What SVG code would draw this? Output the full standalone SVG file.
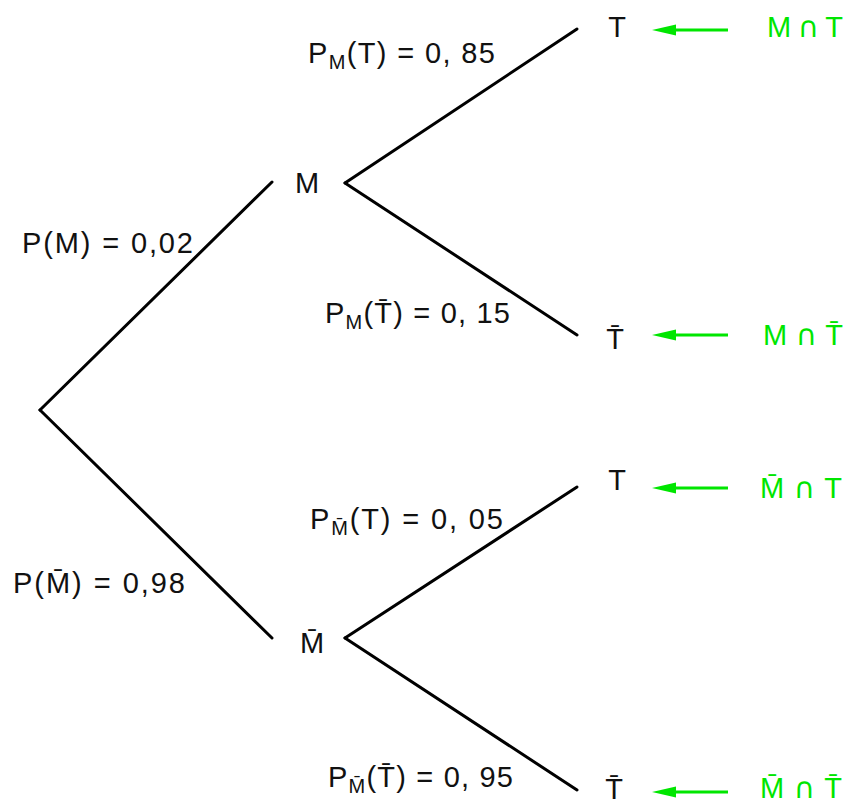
<svg xmlns="http://www.w3.org/2000/svg" width="851" height="805" viewBox="0 0 851 805">
<style>
  text { font-family: "Liberation Sans", "DejaVu Sans", sans-serif; fill: #111; }
  .lbl { font-size: 29px; }
  .node { font-size: 29px; text-anchor: middle; }
  .sub { font-size: 20px; }
  .g { font-size: 29px; fill: #00e600; }
  .cap { font-family: "DejaVu Sans", sans-serif; font-size: 29px; }
  .edge { stroke: #000; stroke-width: 3; fill: none; stroke-linecap: round; }
  .garrow { stroke: #00e600; stroke-width: 3; fill: none; }
</style>
<defs>
  <marker id="ah" markerWidth="24" markerHeight="12" refX="0" refY="6" orient="auto" markerUnits="userSpaceOnUse">
    <path d="M0,0.5 L24,6 L0,11.5 Z" fill="#00e600"/>
  </marker>
</defs>
<rect width="851" height="805" fill="#fff"/>
<g id="connectors">
  <line class="edge" x1="40" y1="410" x2="272" y2="182"/>
  <line class="edge" x1="40" y1="410" x2="272" y2="638"/>
  <line class="edge" x1="345" y1="183" x2="577" y2="29"/>
  <line class="edge" x1="345" y1="183" x2="577" y2="335"/>
  <line class="edge" x1="345" y1="638" x2="577" y2="487"/>
  <line class="edge" x1="345" y1="638" x2="577" y2="790"/>
  <line class="garrow" x1="728" y1="30" x2="676" y2="30" marker-end="url(#ah)"/>
  <line class="garrow" x1="728" y1="335" x2="676" y2="335" marker-end="url(#ah)"/>
  <line class="garrow" x1="728" y1="488" x2="676" y2="488" marker-end="url(#ah)"/>
  <line class="garrow" x1="728" y1="792" x2="676" y2="792" marker-end="url(#ah)"/>
</g>
<g id="node-M"><text class="node" x="307" y="193">M</text></g>
<g id="node-Mbar"><text class="node" x="312" y="653">M&#x304;</text></g>
<g id="node-T1"><text class="node" x="617" y="37">T</text></g>
<g id="node-Tbar1"><text class="node" x="615" y="349">T&#x304;</text></g>
<g id="node-T2"><text class="node" x="617" y="490">T</text></g>
<g id="node-Tbar2"><text class="node" x="614" y="799">T&#x304;</text></g>
<g id="edge-labels">
  <text class="lbl" x="22" y="253" textLength="171" lengthAdjust="spacing">P(M) = 0,02</text>
  <text class="lbl" x="13" y="593" textLength="172" lengthAdjust="spacing">P(M&#x304;) = 0,98</text>
  <text class="lbl" x="308" y="63" textLength="187" lengthAdjust="spacing">P<tspan class="sub" dy="6">M</tspan><tspan dy="-6">(T) = 0, 85</tspan></text>
  <text class="lbl" x="325" y="323" textLength="185" lengthAdjust="spacing">P<tspan class="sub" dy="6">M</tspan><tspan dy="-6">(T&#x304;) = 0, 15</tspan></text>
  <text class="lbl" x="310" y="529" textLength="193" lengthAdjust="spacing">P<tspan class="sub" dy="6">M&#x304;</tspan><tspan dy="-6">(T) = 0, 05</tspan></text>
  <text class="lbl" x="328" y="787" textLength="185" lengthAdjust="spacing">P<tspan class="sub" dy="6">M&#x304;</tspan><tspan dy="-6">(T&#x304;) = 0, 95</tspan></text>
</g>
<g id="events">
  <text class="g" x="767" y="37" textLength="76" lengthAdjust="spacing">M <tspan class="cap">∩</tspan> T</text>
  <text class="g" x="763" y="345" textLength="80" lengthAdjust="spacing">M <tspan class="cap">∩</tspan> T&#x304;</text>
  <text class="g" x="760" y="498" textLength="82" lengthAdjust="spacing">M&#x304; <tspan class="cap">∩</tspan> T</text>
  <text class="g" x="760" y="798" textLength="82" lengthAdjust="spacing">M&#x304; <tspan class="cap">∩</tspan> T&#x304;</text>
</g>
</svg>
